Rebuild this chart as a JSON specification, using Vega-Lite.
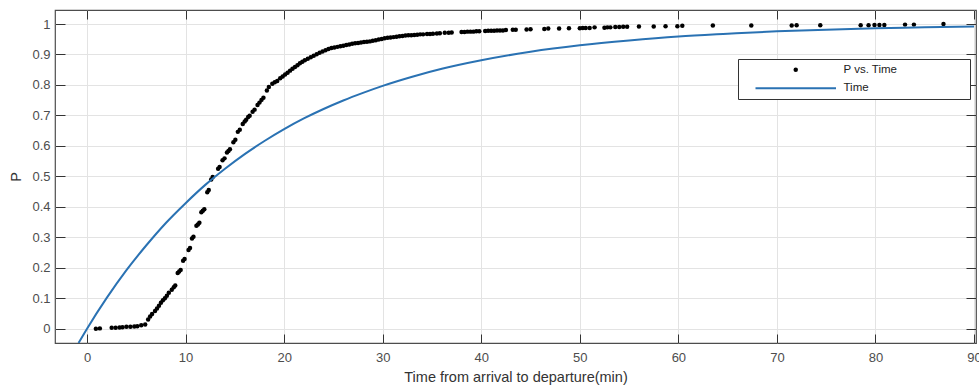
{
  "$schema": "https://vega.github.io/schema/vega-lite/v6.json",
  "width": 921,
  "height": 333,
  "autosize": {"type": "none"},
  "padding": {"left": 55, "top": 10, "right": 3, "bottom": 49},
  "background": "#ffffff",
  "config": {
    "view": {"stroke": "#4d4d4d", "strokeWidth": 1.2},
    "axis": {
      "labelFont": "Liberation Sans",
      "titleFont": "Liberation Sans",
      "labelFontSize": 13,
      "titleFontSize": 14.5,
      "titleFontWeight": "normal",
      "labelColor": "#4d4d4d",
      "titleColor": "#333333",
      "tickColor": "#333333",
      "tickWidth": 1,
      "gridColor": "#e3e3e3",
      "gridWidth": 1,
      "domain": false
    },
    "legend": {
      "title": null,
      "strokeColor": "#333333",
      "fillColor": "#ffffff",
      "padding": 5,
      "rowPadding": 5.5,
      "symbolSize": 20,
      "symbolStrokeWidth": 0,
      "symbolOpacity": 1,
      "symbolOffset": 47,
      "labelOffset": 42,
      "labelFont": "Liberation Sans",
      "labelFontSize": 11.5,
      "labelColor": "#222222"
    }
  },
  "datasets": {
    "dots": [
      {"t": 0.9, "p": 0.0}, {"t": 1.3, "p": 0.001}, {"t": 2.5, "p": 0.003}, {"t": 2.9, "p": 0.003}, {"t": 3.3, "p": 0.004}, {"t": 3.6, "p": 0.005}, {"t": 4.0, "p": 0.006}, {"t": 4.4, "p": 0.006}, {"t": 4.8, "p": 0.007}, {"t": 5.1, "p": 0.008}, {"t": 5.5, "p": 0.011}, {"t": 5.9, "p": 0.014},
      {"t": 6.2, "p": 0.03}, {"t": 6.4, "p": 0.04}, {"t": 6.6, "p": 0.048}, {"t": 6.9, "p": 0.058}, {"t": 7.1, "p": 0.066}, {"t": 7.3, "p": 0.075}, {"t": 7.5, "p": 0.085}, {"t": 7.7, "p": 0.093}, {"t": 7.9, "p": 0.1}, {"t": 8.1, "p": 0.108}, {"t": 8.3, "p": 0.118}, {"t": 8.6, "p": 0.128}, {"t": 8.8, "p": 0.136}, {"t": 8.95, "p": 0.142},
      {"t": 9.2, "p": 0.183}, {"t": 9.35, "p": 0.188}, {"t": 9.5, "p": 0.193},
      {"t": 9.75, "p": 0.223}, {"t": 9.9, "p": 0.229},
      {"t": 10.3, "p": 0.258}, {"t": 10.45, "p": 0.265},
      {"t": 10.65, "p": 0.296}, {"t": 10.8, "p": 0.302},
      {"t": 11.1, "p": 0.338}, {"t": 11.25, "p": 0.342}, {"t": 11.4, "p": 0.348},
      {"t": 11.6, "p": 0.382}, {"t": 11.75, "p": 0.387}, {"t": 11.9, "p": 0.392},
      {"t": 12.2, "p": 0.448}, {"t": 12.35, "p": 0.455},
      {"t": 12.6, "p": 0.49}, {"t": 12.75, "p": 0.498},
      {"t": 13.3, "p": 0.525}, {"t": 13.45, "p": 0.531},
      {"t": 13.75, "p": 0.553}, {"t": 13.95, "p": 0.559},
      {"t": 14.2, "p": 0.578}, {"t": 14.35, "p": 0.583}, {"t": 14.5, "p": 0.589},
      {"t": 14.85, "p": 0.612}, {"t": 15.05, "p": 0.62},
      {"t": 15.3, "p": 0.646}, {"t": 15.5, "p": 0.653},
      {"t": 15.8, "p": 0.672}, {"t": 16.0, "p": 0.68}, {"t": 16.15, "p": 0.686},
      {"t": 16.35, "p": 0.695}, {"t": 16.5, "p": 0.699},
      {"t": 16.8, "p": 0.712}, {"t": 17.0, "p": 0.719},
      {"t": 17.3, "p": 0.734}, {"t": 17.5, "p": 0.742},
      {"t": 17.7, "p": 0.751}, {"t": 17.9, "p": 0.758},
      {"t": 18.25, "p": 0.782}, {"t": 18.45, "p": 0.793},
      {"t": 18.8, "p": 0.804}, {"t": 19.05, "p": 0.809}, {"t": 19.3, "p": 0.813},
      {"t": 19.6, "p": 0.822}, {"t": 19.85, "p": 0.828}, {"t": 20.1, "p": 0.834}, {"t": 20.35, "p": 0.84}, {"t": 20.6, "p": 0.847}, {"t": 20.85, "p": 0.853}, {"t": 21.1, "p": 0.859}, {"t": 21.35, "p": 0.865}, {"t": 21.6, "p": 0.871}, {"t": 21.85, "p": 0.876}, {"t": 22.1, "p": 0.881}, {"t": 22.4, "p": 0.886}, {"t": 22.7, "p": 0.891}, {"t": 23.0, "p": 0.896}, {"t": 23.3, "p": 0.901}, {"t": 23.6, "p": 0.906}, {"t": 23.9, "p": 0.91}, {"t": 24.2, "p": 0.914}, {"t": 24.5, "p": 0.918}, {"t": 24.8, "p": 0.921}, {"t": 25.1, "p": 0.923}, {"t": 25.4, "p": 0.925}, {"t": 25.7, "p": 0.927}, {"t": 26.0, "p": 0.929}, {"t": 26.3, "p": 0.931}, {"t": 26.6, "p": 0.933}, {"t": 26.9, "p": 0.935}, {"t": 27.2, "p": 0.937}, {"t": 27.5, "p": 0.938}, {"t": 27.8, "p": 0.939}, {"t": 28.1, "p": 0.941}, {"t": 28.4, "p": 0.942}, {"t": 28.7, "p": 0.943}, {"t": 29.0, "p": 0.945}, {"t": 29.3, "p": 0.947}, {"t": 29.6, "p": 0.949}, {"t": 29.9, "p": 0.951}, {"t": 30.2, "p": 0.953}, {"t": 30.5, "p": 0.955}, {"t": 30.8, "p": 0.956}, {"t": 31.1, "p": 0.957}, {"t": 31.4, "p": 0.958}, {"t": 31.7, "p": 0.96}, {"t": 32.0, "p": 0.961}, {"t": 32.3, "p": 0.962}, {"t": 32.6, "p": 0.963}, {"t": 32.9, "p": 0.963}, {"t": 33.2, "p": 0.964}, {"t": 33.5, "p": 0.965}, {"t": 33.8, "p": 0.966}, {"t": 34.1, "p": 0.966}, {"t": 34.5, "p": 0.967}, {"t": 34.8, "p": 0.967}, {"t": 35.1, "p": 0.968}, {"t": 35.5, "p": 0.969}, {"t": 35.8, "p": 0.97}, {"t": 36.3, "p": 0.971}, {"t": 36.7, "p": 0.971}, {"t": 37.0, "p": 0.972},
      {"t": 38.0, "p": 0.974}, {"t": 38.3, "p": 0.974}, {"t": 38.6, "p": 0.975}, {"t": 38.9, "p": 0.975}, {"t": 39.2, "p": 0.975}, {"t": 39.5, "p": 0.976}, {"t": 39.8, "p": 0.976}, {"t": 40.4, "p": 0.977}, {"t": 40.7, "p": 0.978}, {"t": 41.0, "p": 0.978}, {"t": 41.3, "p": 0.978}, {"t": 41.6, "p": 0.979}, {"t": 41.9, "p": 0.979}, {"t": 42.2, "p": 0.979}, {"t": 42.5, "p": 0.98}, {"t": 43.2, "p": 0.981}, {"t": 43.5, "p": 0.981}, {"t": 44.6, "p": 0.982}, {"t": 45.0, "p": 0.983}, {"t": 46.4, "p": 0.984}, {"t": 46.8, "p": 0.985}, {"t": 47.9, "p": 0.985}, {"t": 48.9, "p": 0.986}, {"t": 50.0, "p": 0.986}, {"t": 50.3, "p": 0.987}, {"t": 50.6, "p": 0.987}, {"t": 51.0, "p": 0.987}, {"t": 51.5, "p": 0.989}, {"t": 52.5, "p": 0.988}, {"t": 52.8, "p": 0.989}, {"t": 53.1, "p": 0.989}, {"t": 53.6, "p": 0.99}, {"t": 54.0, "p": 0.99}, {"t": 54.4, "p": 0.991}, {"t": 54.8, "p": 0.991}, {"t": 56.0, "p": 0.992}, {"t": 57.5, "p": 0.992}, {"t": 58.7, "p": 0.993}, {"t": 59.9, "p": 0.993}, {"t": 60.4, "p": 0.994}, {"t": 63.5, "p": 0.995}, {"t": 67.4, "p": 0.995}, {"t": 71.5, "p": 0.995}, {"t": 72.0, "p": 0.996}, {"t": 74.4, "p": 0.996}, {"t": 78.5, "p": 0.996}, {"t": 79.3, "p": 0.996}, {"t": 79.9, "p": 0.997}, {"t": 80.4, "p": 0.997}, {"t": 80.9, "p": 0.997}, {"t": 83.0, "p": 0.998}, {"t": 83.9, "p": 0.998}, {"t": 86.9, "p": 1.0}
    ],
    "curve": [
      {"t": -0.86, "p": -0.047}, {"t": 0, "p": 0}, {"t": 2, "p": 0.101}, {"t": 4, "p": 0.192}, {"t": 6, "p": 0.273}, {"t": 8, "p": 0.347}, {"t": 10, "p": 0.412}, {"t": 12, "p": 0.472}, {"t": 14, "p": 0.525}, {"t": 16, "p": 0.573}, {"t": 18, "p": 0.616}, {"t": 20, "p": 0.655}, {"t": 22, "p": 0.69}, {"t": 24, "p": 0.721}, {"t": 26, "p": 0.749}, {"t": 28, "p": 0.774}, {"t": 30, "p": 0.797}, {"t": 33, "p": 0.827}, {"t": 36, "p": 0.853}, {"t": 40, "p": 0.881}, {"t": 45, "p": 0.909}, {"t": 50, "p": 0.93}, {"t": 55, "p": 0.946}, {"t": 60, "p": 0.959}, {"t": 65, "p": 0.968}, {"t": 70, "p": 0.976}, {"t": 75, "p": 0.981}, {"t": 80, "p": 0.986}, {"t": 85, "p": 0.989}, {"t": 90, "p": 0.992}
    ]
  },
  "layer": [
    {
      "data": {"name": "dots"},
      "mark": {"type": "point", "filled": true, "size": 20, "opacity": 1},
      "encoding": {
        "x": {
          "field": "t", "type": "quantitative",
          "scale": {"domain": [-3.25, 90.2], "nice": false, "zero": false},
          "axis": {
            "orient": "bottom",
            "values": [0, 10, 20, 30, 40, 50, 60, 70, 80, 90],
            "grid": true,
            "tickSize": -9,
            "labelPadding": 17.5,
            "title": "Time from arrival to departure(min)",
            "titlePadding": 6
          }
        },
        "y": {
          "field": "p", "type": "quantitative",
          "scale": {"domain": [-0.047, 1.046], "nice": false, "zero": false},
          "axis": {
            "orient": "left",
            "values": [0, 0.1, 0.2, 0.3, 0.4, 0.5, 0.6, 0.7, 0.8, 0.9, 1],
            "format": ".1~f",
            "grid": true,
            "tickSize": -10,
            "labelPadding": 15,
            "title": "P",
            "titlePadding": 8
          }
        },
        "color": {
          "datum": "P vs. Time",
          "scale": {"domain": ["P vs. Time", "Time"], "range": ["#000000", "#2a72b3"]},
          "legend": {"orient": "none", "legendX": 683, "legendY": 49}
        },
        "shape": {
          "datum": "P vs. Time",
          "scale": {"domain": ["P vs. Time", "Time"], "range": ["circle", "M-18,-0.45H18V0.45H-18ZM75.6,0"]},
          "legend": {"orient": "none", "legendX": 683, "legendY": 49}
        }
      }
    },
    {
      "data": {"name": "curve"},
      "mark": {"type": "line", "strokeWidth": 2, "interpolate": "monotone", "clip": true},
      "encoding": {
        "x": {
          "field": "t", "type": "quantitative",
          "axis": {
            "orient": "top",
            "values": [0, 10, 20, 30, 40, 50, 60, 70, 80, 90],
            "labels": false,
            "grid": false,
            "tickSize": -9,
            "title": null
          }
        },
        "y": {
          "field": "p", "type": "quantitative",
          "axis": {
            "orient": "right",
            "values": [0, 0.1, 0.2, 0.3, 0.4, 0.5, 0.6, 0.7, 0.8, 0.9, 1],
            "labels": false,
            "grid": false,
            "tickSize": -10,
            "title": null
          }
        },
        "color": {"datum": "Time", "legend": {"orient": "none", "legendX": 683, "legendY": 49}}
      }
    }
  ],
  "resolve": {"axis": {"x": "independent", "y": "independent"}}
}
